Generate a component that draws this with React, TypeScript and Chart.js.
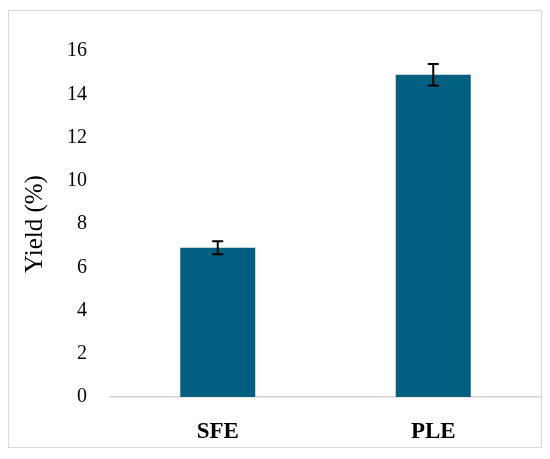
import React, { useEffect, useRef } from "react";
import { Chart, registerables } from "chart.js";

Chart.register(...registerables);

const categories = ["SFE", "PLE"];
const yieldValues = [6.9, 14.9];
const yieldErrors = [0.3, 0.5];
const yTicks = [0, 2, 4, 6, 8, 10, 12, 14, 16];

const errorBarPlugin = {
  id: "errorBars",
  afterDatasetsDraw(chart: any) {
    const { ctx } = chart;
    const meta = chart.getDatasetMeta(0);
    const yScale = chart.scales.y;
    ctx.save();
    ctx.strokeStyle = "#000000";
    ctx.lineWidth = 2;
    meta.data.forEach((bar: any, i: number) => {
      const x = bar.x;
      const top = yScale.getPixelForValue(yieldValues[i] + yieldErrors[i]);
      const bot = yScale.getPixelForValue(yieldValues[i] - yieldErrors[i]);
      const cap = 5.5;
      ctx.beginPath();
      ctx.moveTo(x, top);
      ctx.lineTo(x, bot);
      ctx.moveTo(x - cap, top);
      ctx.lineTo(x + cap, top);
      ctx.moveTo(x - cap, bot);
      ctx.lineTo(x + cap, bot);
      ctx.stroke();
    });
    ctx.restore();
  },
};

export default function App() {
  const ref = useRef<HTMLCanvasElement>(null);
  useEffect(() => {
    if (!ref.current) return;
    const chart = new Chart(ref.current, {
      type: "bar",
      data: {
        labels: categories,
        datasets: [
          {
            data: yieldValues,
            backgroundColor: "#015f81",
            borderWidth: 0,
            barPercentage: 1,
            categoryPercentage: 0.348,
          },
        ],
      },
      options: {
        animation: false,
        responsive: false,
        maintainAspectRatio: false,
        layout: { padding: { top: 40, right: 0, left: 0, bottom: 0 } },
        plugins: { legend: { display: false }, tooltip: { enabled: false } },
        scales: {
          x: {
            grid: { display: false, drawTicks: false },
            border: { display: true, color: "#d4d4d4", width: 1.5 },
            ticks: {
              color: "#000000",
              padding: 21,
              font: { family: "Liberation Serif", size: 23, weight: "bold" },
            },
            afterFit: (s: any) => {
              s.height = 50;
            },
          },
          y: {
            min: 0,
            max: 16,
            afterBuildTicks: (s: any) => {
              s.ticks = yTicks.map((v) => ({ value: v }));
            },
            grid: { display: false, drawTicks: false },
            border: { display: false },
            ticks: {
              color: "#000000",
              padding: 23,
              font: { family: "Liberation Serif", size: 20 },
            },
            title: {
              display: true,
              text: "Yield (%)",
              color: "#000000",
              padding: { top: 11, bottom: 0 },
              font: { family: "Liberation Serif", size: 25, weight: "normal" },
            },
            afterFit: (s: any) => {
              s.width = 101;
            },
          },
        },
      },
      plugins: [errorBarPlugin],
    });
    return () => chart.destroy();
  }, []);
  return (
    <div style={{ paddingTop: 2 }}>
      <div
        style={{
          width: 532,
          height: 436,
          border: "1px solid #d9d9d9",
          background: "#ffffff",
        }}
      >
        <canvas ref={ref} width={532} height={436} style={{ display: "block" }} />
      </div>
    </div>
  );
}
